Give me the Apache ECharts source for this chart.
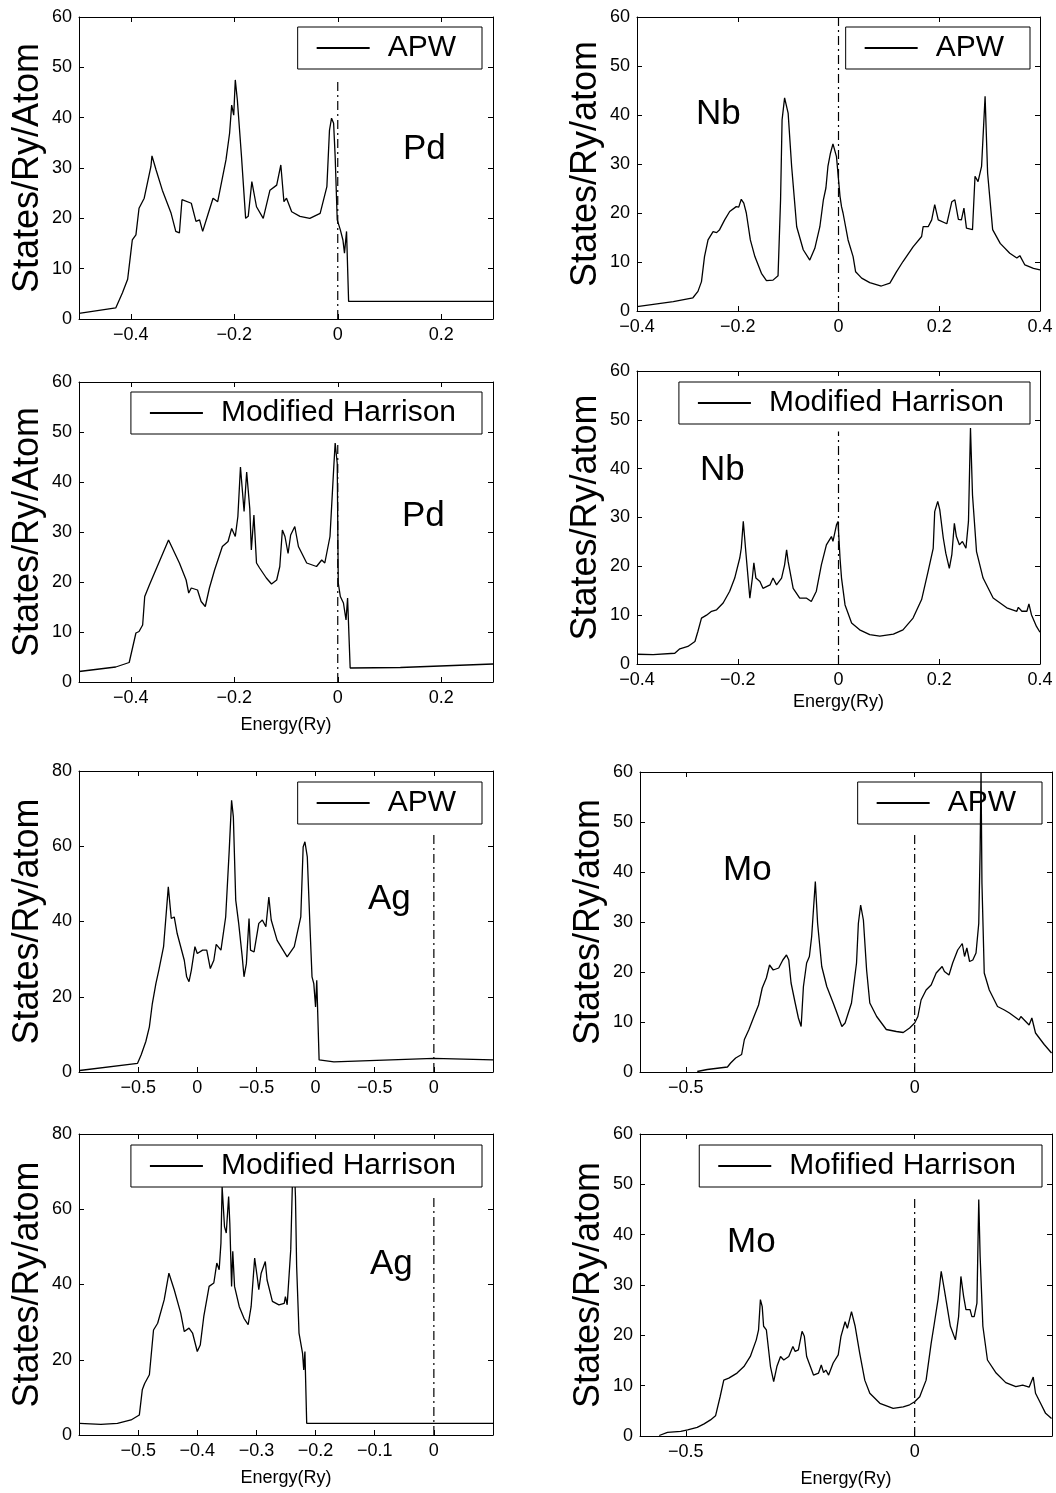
<!DOCTYPE html>
<html>
<head>
<meta charset="utf-8">
<script src="https://cdn.jsdelivr.net/npm/echarts@6/dist/echarts.min.js"></script>
<style>
  html, body { margin: 0; padding: 0; background: #fff; }
  #main { width: 1056px; height: 1493px; }
</style>
</head>
<body>
<div id="main"></div>
<script>
const FONT = '"Liberation Sans", Arial, Helvetica, sans-serif';

// DOS curves, [energy (Ry), states/Ry/atom]
const pdApw = [[-0.5,1.1],[-0.429,2.2],[-0.416,5.2],[-0.406,7.9],[-0.400,13.1],[-0.397,15.7],[-0.390,16.7],[-0.384,22.0],[-0.374,24.0],[-0.361,30.3],[-0.359,32.4],[-0.351,29.6],[-0.339,25.6],[-0.322,21.0],[-0.313,17.4],[-0.306,17.1],[-0.301,23.7],[-0.283,23.0],[-0.274,19.4],[-0.267,19.7],[-0.261,17.4],[-0.251,20.7],[-0.241,24.0],[-0.232,23.3],[-0.216,31.6],[-0.209,36.9],[-0.205,42.5],[-0.201,40.5],[-0.198,47.5],[-0.194,43.5],[-0.186,32.3],[-0.178,20.0],[-0.173,20.4],[-0.166,27.3],[-0.157,22.3],[-0.144,20.0],[-0.131,25.6],[-0.118,26.6],[-0.110,30.6],[-0.104,23.3],[-0.099,24.0],[-0.089,21.3],[-0.073,20.4],[-0.054,20.0],[-0.034,21.0],[-0.021,26.3],[-0.016,37.5],[-0.012,39.9],[-0.008,38.9],[-0.005,32.3],[-0.001,19.7],[0.005,17.7],[0.010,15.7],[0.013,13.1],[0.017,17.4],[0.021,3.5],[0.056,3.5],[0.300,3.5]];

const pdMh = [[-0.5,2.1],[-0.429,3.0],[-0.403,3.9],[-0.390,9.8],[-0.384,10.1],[-0.377,11.4],[-0.373,17.1],[-0.364,19.4],[-0.327,28.4],[-0.306,23.8],[-0.293,20.4],[-0.288,17.8],[-0.283,18.8],[-0.271,18.4],[-0.264,16.1],[-0.256,15.1],[-0.248,18.8],[-0.238,22.4],[-0.223,27.1],[-0.212,28.1],[-0.205,30.7],[-0.198,29.1],[-0.193,33.1],[-0.188,43.0],[-0.181,34.1],[-0.176,42.0],[-0.170,34.7],[-0.167,26.4],[-0.162,33.4],[-0.157,23.8],[-0.151,22.8],[-0.138,20.8],[-0.128,19.6],[-0.118,20.4],[-0.112,23.1],[-0.107,30.4],[-0.102,29.1],[-0.096,25.7],[-0.091,29.4],[-0.083,31.1],[-0.076,27.1],[-0.060,23.8],[-0.041,23.1],[-0.031,24.4],[-0.025,23.8],[-0.015,29.1],[-0.008,42.4],[-0.005,47.8],[-0.001,43.7],[0.001,19.8],[0.005,17.1],[0.011,15.8],[0.016,12.4],[0.019,16.8],[0.024,2.8],[0.121,2.9],[0.300,3.6]];

const agApw = [[-0.599,0.4],[-0.501,2.3],[-0.495,4.5],[-0.487,8.1],[-0.481,12.0],[-0.476,18.2],[-0.470,23.5],[-0.465,27.1],[-0.457,33.3],[-0.449,49.2],[-0.444,40.8],[-0.439,41.2],[-0.434,36.8],[-0.422,29.7],[-0.418,25.3],[-0.414,24.0],[-0.410,27.1],[-0.404,33.3],[-0.400,31.5],[-0.391,32.4],[-0.384,32.4],[-0.378,27.5],[-0.372,29.7],[-0.368,33.9],[-0.360,32.4],[-0.352,41.2],[-0.346,58.9],[-0.342,72.2],[-0.339,67.8],[-0.335,45.7],[-0.330,39.5],[-0.324,30.6],[-0.321,25.3],[-0.317,28.8],[-0.3125,40.8],[-0.310,32.4],[-0.304,31.9],[-0.296,39.5],[-0.290,40.4],[-0.284,38.6],[-0.279,46.5],[-0.275,40.4],[-0.265,35.0],[-0.248,30.6],[-0.236,33.3],[-0.225,41.2],[-0.221,59.8],[-0.218,61.2],[-0.214,57.2],[-0.209,36.8],[-0.206,25.3],[-0.203,23.5],[-0.200,17.3],[-0.198,24.4],[-0.194,3.2],[-0.169,2.7],[0,3.6],[0.1,3.2]];

const agMh = [[-0.599,3.1],[-0.563,2.8],[-0.535,3.1],[-0.512,4.0],[-0.498,5.3],[-0.493,12.0],[-0.489,13.7],[-0.481,16.0],[-0.474,27.9],[-0.467,29.7],[-0.456,35.9],[-0.448,43.0],[-0.439,38.6],[-0.428,32.4],[-0.422,27.5],[-0.414,28.4],[-0.408,27.1],[-0.400,22.2],[-0.395,23.9],[-0.389,31.5],[-0.380,39.5],[-0.372,40.4],[-0.367,45.7],[-0.363,43.9],[-0.360,51.0],[-0.358,66.0],[-0.354,55.4],[-0.351,53.7],[-0.347,63.4],[-0.345,56.3],[-0.342,39.5],[-0.340,48.8],[-0.337,39.5],[-0.329,34.1],[-0.321,31.0],[-0.314,29.3],[-0.309,34.1],[-0.303,47.0],[-0.298,41.2],[-0.296,38.6],[-0.292,43.0],[-0.285,46.1],[-0.282,41.2],[-0.273,35.5],[-0.262,34.6],[-0.253,35.0],[-0.251,36.8],[-0.248,34.6],[-0.242,49.2],[-0.239,68.0],[-0.236,72.0],[-0.234,63.4],[-0.232,44.8],[-0.228,27.1],[-0.222,21.7],[-0.220,17.3],[-0.218,22.2],[-0.215,3.1],[-0.169,3.1],[0.1,3.1]];

const nbApw = [[-0.400,0.9],[-0.328,1.9],[-0.289,2.7],[-0.279,4.0],[-0.272,6.0],[-0.266,11.1],[-0.259,14.5],[-0.249,16.2],[-0.242,16.0],[-0.236,16.6],[-0.226,18.6],[-0.216,20.3],[-0.203,21.3],[-0.198,21.2],[-0.193,22.8],[-0.188,22.0],[-0.183,20.0],[-0.175,14.5],[-0.166,11.1],[-0.153,7.7],[-0.143,6.2],[-0.130,6.3],[-0.120,7.2],[-0.115,22.7],[-0.112,39.0],[-0.107,43.5],[-0.100,40.4],[-0.093,29.5],[-0.083,17.2],[-0.070,12.5],[-0.057,10.4],[-0.047,12.8],[-0.037,17.2],[-0.030,22.7],[-0.025,25.1],[-0.021,29.5],[-0.016,32.2],[-0.011,34.1],[-0.004,31.5],[0.003,23.4],[0.006,21.3],[0.009,20.0],[0.019,14.5],[0.029,11.1],[0.034,8.0],[0.046,6.7],[0.062,5.8],[0.085,5.1],[0.102,5.7],[0.115,8.0],[0.128,10.1],[0.148,13.1],[0.165,15.2],[0.168,17.2],[0.178,17.2],[0.185,18.6],[0.191,21.7],[0.198,18.6],[0.215,17.8],[0.225,22.3],[0.231,22.7],[0.238,18.7],[0.244,18.6],[0.249,21.0],[0.254,16.9],[0.266,16.6],[0.271,27.5],[0.277,26.4],[0.284,29.5],[0.291,43.8],[0.296,28.1],[0.306,16.6],[0.321,13.8],[0.340,11.8],[0.354,10.8],[0.360,11.3],[0.370,9.4],[0.387,8.7],[0.400,8.4]];

const nbMh = [[-0.400,2.0],[-0.368,1.9],[-0.325,2.2],[-0.315,3.1],[-0.299,3.6],[-0.285,4.6],[-0.279,6.7],[-0.272,9.4],[-0.262,10.0],[-0.252,10.8],[-0.242,11.1],[-0.229,12.5],[-0.216,14.9],[-0.206,17.6],[-0.196,21.7],[-0.193,23.7],[-0.189,29.2],[-0.184,23.0],[-0.176,13.5],[-0.171,17.6],[-0.168,20.7],[-0.164,17.6],[-0.156,16.9],[-0.150,15.5],[-0.136,16.2],[-0.130,17.6],[-0.123,16.2],[-0.113,17.6],[-0.107,20.3],[-0.103,23.4],[-0.100,21.0],[-0.090,15.5],[-0.077,13.5],[-0.064,13.5],[-0.054,12.8],[-0.044,14.9],[-0.034,20.3],[-0.024,24.4],[-0.014,26.1],[-0.011,25.1],[-0.004,28.5],[-0.001,29.2],[0.003,21.7],[0.006,17.6],[0.013,12.1],[0.026,8.4],[0.042,7.0],[0.062,6.0],[0.082,5.7],[0.109,6.1],[0.128,7.0],[0.148,9.4],[0.165,13.2],[0.178,19.0],[0.188,23.7],[0.191,31.2],[0.197,33.3],[0.201,31.6],[0.208,25.8],[0.213,22.7],[0.220,19.6],[0.225,22.4],[0.230,28.8],[0.234,26.1],[0.240,24.4],[0.246,25.1],[0.253,23.7],[0.258,29.2],[0.262,48.3],[0.266,34.6],[0.274,23.0],[0.287,17.6],[0.307,13.5],[0.334,11.5],[0.354,10.8],[0.357,11.6],[0.364,10.8],[0.374,10.8],[0.378,12.3],[0.383,10.1],[0.393,7.7],[0.400,6.5]];

const moApw = [[-0.475,0.1],[-0.453,0.5],[-0.409,1.0],[-0.402,1.8],[-0.391,2.8],[-0.378,3.5],[-0.372,6.5],[-0.362,8.5],[-0.351,11.1],[-0.341,13.4],[-0.333,16.8],[-0.324,18.8],[-0.317,21.4],[-0.309,20.4],[-0.297,20.8],[-0.288,22.4],[-0.280,23.4],[-0.275,22.4],[-0.270,17.8],[-0.261,13.8],[-0.254,10.8],[-0.248,9.1],[-0.243,17.1],[-0.236,21.8],[-0.230,23.1],[-0.225,27.1],[-0.217,38.1],[-0.212,29.7],[-0.203,21.1],[-0.192,17.1],[-0.178,13.8],[-0.167,11.1],[-0.159,9.1],[-0.152,9.8],[-0.138,13.8],[-0.127,21.8],[-0.123,29.7],[-0.118,33.4],[-0.112,30.4],[-0.105,20.4],[-0.098,13.8],[-0.083,11.1],[-0.062,8.5],[-0.040,8.1],[-0.025,7.9],[-0.011,8.8],[0,9.8],[0.007,11.1],[0.014,14.4],[0.025,16.4],[0.036,17.4],[0.047,19.8],[0.060,21.1],[0.065,20.1],[0.075,19.4],[0.083,21.8],[0.094,24.4],[0.104,25.7],[0.109,23.1],[0.114,24.8],[0.120,22.1],[0.127,22.4],[0.134,23.8],[0.140,29.7],[0.143,44.4],[0.145,60],[0.147,37.7],[0.152,19.8],[0.163,16.4],[0.181,13.1],[0.196,12.4],[0.207,11.8],[0.228,10.4],[0.232,11.1],[0.250,9.4],[0.256,10.8],[0.264,7.8],[0.283,5.5],[0.299,3.8]];

const moMh = [[-0.558,0.1],[-0.540,0.7],[-0.511,0.9],[-0.496,1.2],[-0.475,1.7],[-0.460,2.4],[-0.446,3.2],[-0.435,4.0],[-0.425,7.8],[-0.417,11.1],[-0.406,11.5],[-0.388,12.5],[-0.373,13.8],[-0.359,15.8],[-0.346,19.1],[-0.341,21.1],[-0.337,27.1],[-0.333,25.7],[-0.330,21.8],[-0.324,21.1],[-0.315,13.8],[-0.308,10.8],[-0.301,13.8],[-0.293,15.8],[-0.286,15.1],[-0.275,15.8],[-0.266,17.8],[-0.261,16.8],[-0.254,17.1],[-0.246,20.8],[-0.241,19.8],[-0.236,15.8],[-0.221,12.1],[-0.210,12.5],[-0.204,14.1],[-0.199,12.6],[-0.194,13.1],[-0.188,12.1],[-0.178,14.5],[-0.167,16.1],[-0.161,19.8],[-0.152,22.7],[-0.147,21.4],[-0.138,24.7],[-0.130,21.8],[-0.120,16.4],[-0.109,11.1],[-0.098,8.5],[-0.076,6.5],[-0.047,5.5],[-0.025,5.8],[-0.011,6.2],[0,6.8],[0.011,7.8],[0.025,11.1],[0.036,18.4],[0.043,22.4],[0.051,27.1],[0.058,32.7],[0.065,29.0],[0.078,21.8],[0.089,19.1],[0.096,23.7],[0.101,31.7],[0.107,27.7],[0.112,25.1],[0.121,25.1],[0.125,23.7],[0.130,23.7],[0.136,26.4],[0.140,47.0],[0.143,35.7],[0.149,21.8],[0.159,15.1],[0.178,12.5],[0.199,10.6],[0.221,9.8],[0.236,10.1],[0.250,9.7],[0.259,11.7],[0.264,8.5],[0.275,6.5],[0.286,4.5],[0.299,3.5]];

// tick positions and labels
const pdTicks = [-0.4, -0.2, 0, 0.2];
const agTicks = [-0.5, -0.4, -0.3, -0.2, -0.1, 0];
const agApwTickLabels = ['-0.5', '0', '-0.5', '0', '-0.5', '0'];
const nbTicks = [-0.4, -0.2, 0, 0.2, 0.4];
const moTicks = [-0.5, 0];

// height of the dash-dot Fermi level line in each panel
const fermiTops = [47.5, 47.8, 63.5, 63.4, 60, 47.6, 47.7, 47.8];

const panels = [
  { box: [79, 17, 414, 302],   x: [-0.5, 0.3], ticks: pdTicks, labels: null, y: [0, 60, 10], yName: 'States/Ry/Atom', data: pdApw, name: 'APW', legend: [574, 27], legendBg: true, tag: ['Pd', 403, 132], xName: '' },
  { box: [79, 382, 414, 300],  x: [-0.5, 0.3], ticks: pdTicks, labels: null, y: [0, 60, 10], yName: 'States/Ry/Atom', data: pdMh, name: 'Modified Harrison', legend: [574, 392], legendBg: true, tag: ['Pd', 402, 499], xName: 'Energy(Ry)', xGap: 34 },
  { box: [79, 771, 414, 301],  x: [-0.6, 0.1], ticks: agTicks, labels: agApwTickLabels, y: [0, 80, 20], yName: 'States/Ry/atom', data: agApw, name: 'APW', legend: [574, 782], legendBg: true, tag: ['Ag', 368, 882], xName: '' },
  { box: [79, 1134, 414, 301], x: [-0.6, 0.1], ticks: agTicks, labels: null, y: [0, 80, 20], yName: 'States/Ry/atom', data: agMh, name: 'Modified Harrison', legend: [574, 1145], legendBg: true, tag: ['Ag', 370, 1247], xName: 'Energy(Ry)', xGap: 34 },
  { box: [637, 17, 403, 294],  x: [-0.4, 0.4], ticks: nbTicks, labels: null, y: [0, 60, 10], yName: 'States/Ry/atom', data: nbApw, name: 'APW', legend: [26, 27], legendBg: true, tag: ['Nb', 696, 97], xName: '' },
  { box: [637, 371, 403, 293], x: [-0.4, 0.4], ticks: nbTicks, labels: null, y: [0, 60, 10], yName: 'States/Ry/atom', data: nbMh, name: 'Modified Harrison', legend: [26, 382], legendBg: true, tag: ['Nb', 700, 453], xName: 'Energy(Ry)', xGap: 29 },
  { box: [640, 772, 412, 300], x: [-0.6, 0.3], ticks: moTicks, labels: null, y: [0, 60, 10], yName: 'States/Ry/atom', data: moApw, name: 'APW', legend: [14, 782], legendBg: false, tag: ['Mo', 723, 853], xName: '' },
  { box: [640, 1134, 412, 302], x: [-0.6, 0.3], ticks: moTicks, labels: null, y: [0, 60, 10], yName: 'States/Ry/atom', data: moMh, name: 'Mofified Harrison', legend: [14, 1145], legendBg: true, tag: ['Mo', 727, 1225], xName: 'Energy(Ry)', xGap: 34 }
];

const chart = echarts.init(document.getElementById('main'), null, { renderer: 'canvas' });

const black = { color: '#000', width: 1 };
const option = { animation: false, backgroundColor: '#fff', grid: [], xAxis: [], yAxis: [], series: [], legend: [], graphic: [] };

panels.forEach((p, i) => {
  option.grid.push({ left: p.box[0], top: p.box[1], width: p.box[2], height: p.box[3] });

  const fmtX = v => {
    const k = p.ticks.findIndex(t => Math.abs(t - v) < 1e-6);
    const s = p.labels ? p.labels[k] : String(Math.round(v * 10) / 10);
    return s.replace('-', '\u2212');
  };
  const xCommon = { type: 'value', gridIndex: i, min: p.x[0], max: p.x[1], splitLine: { show: false },
    axisLine: { onZero: false, lineStyle: black } };
  // bottom axis with labels
  option.xAxis.push(Object.assign({}, xCommon, {
    position: 'bottom',
    axisTick: { inside: true, length: 5, customValues: p.ticks, lineStyle: black },
    axisLabel: { customValues: p.ticks, formatter: fmtX, color: '#000', fontSize: 18, fontFamily: FONT, margin: 7 },
    name: p.xName, nameLocation: 'middle', nameGap: p.xGap || 30,
    nameTextStyle: { color: '#000', fontSize: 18, fontFamily: FONT }
  }));
  // top mirror (box)
  option.xAxis.push(Object.assign({}, xCommon, {
    position: 'top',
    axisTick: { inside: true, length: 5, customValues: p.ticks, lineStyle: black },
    axisLabel: { show: false }
  }));

  const yCommon = { type: 'value', gridIndex: i, min: p.y[0], max: p.y[1], interval: p.y[2], splitLine: { show: false },
    axisLine: { onZero: false, lineStyle: black }, axisTick: { inside: true, length: 5, lineStyle: black } };
  option.yAxis.push(Object.assign({}, yCommon, {
    position: 'left',
    axisLabel: { color: '#000', fontSize: 18, fontFamily: FONT, margin: 7 },
    name: p.yName, nameLocation: 'middle', nameGap: 33,
    nameTextStyle: { color: '#000', fontSize: 36, fontFamily: FONT }
  }));
  option.yAxis.push(Object.assign({}, yCommon, { position: 'right', axisLabel: { show: false } }));

  option.series.push({
    type: 'line', name: p.name, xAxisIndex: 2 * i, yAxisIndex: 2 * i, data: p.data,
    symbol: 'none', showSymbol: false, silent: true, clip: true,
    lineStyle: { color: '#000', width: 1.3 }, itemStyle: { color: '#000' }
  });
  option.series.push({
    type: 'line', name: 'EF' + i, xAxisIndex: 2 * i, yAxisIndex: 2 * i, data: [[0, 0], [0, fermiTops[i]]],
    symbol: 'none', silent: true,
    lineStyle: { color: '#000', width: 1.2, type: [9, 4, 2, 4] }, itemStyle: { color: '#000' }
  });

  option.legend.push({
    data: [p.name], right: p.legend[0], top: p.legend[1], selectedMode: false,
    icon: 'rect', itemWidth: 53, itemHeight: 2, padding: [6, 26, 6, 19],
    borderColor: '#000', borderWidth: 1, borderRadius: 0,
    backgroundColor: p.legendBg ? '#fff' : 'transparent',
    itemStyle: { color: '#000', borderWidth: 0 },
    lineStyle: { color: '#000', width: 1.2 },
    textStyle: { color: '#000', fontSize: 30, fontFamily: FONT, padding: [0, 0, 0, 13] }
  });

  option.graphic.push({
    type: 'text', left: p.tag[1], top: p.tag[2], z: 10,
    style: { text: p.tag[0], fill: '#000', font: '35px ' + FONT }
  });
});

chart.setOption(option);
window.addEventListener('resize', () => chart.resize());
</script>
</body>
</html>
